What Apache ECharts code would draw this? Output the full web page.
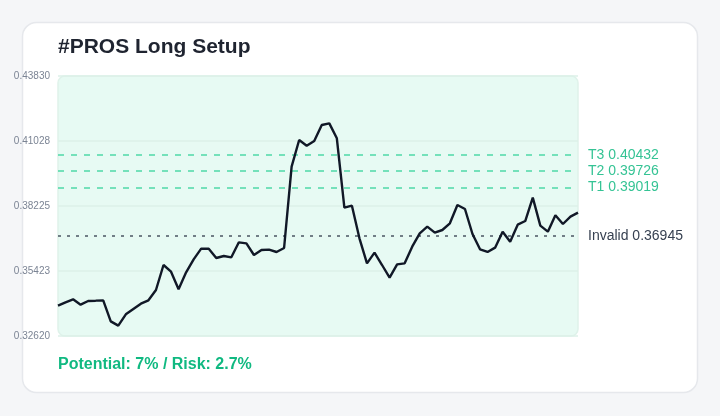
<!DOCTYPE html>
<html>
<head>
<meta charset="utf-8">
<script src="https://cdn.jsdelivr.net/npm/echarts@6/dist/echarts.min.js"></script>
<style>
html,body{margin:0;padding:0;background:#f5f6f8;}
#chart{width:720px;height:416px;}
</style>
</head>
<body>
<div id="chart"></div>
<script>
const titleText = '#PROS Long Setup';
const footerText = 'Potential: 7% / Risk: 2.7%';
const yTicks = [0.32620, 0.35423, 0.38225, 0.41028, 0.43830];
const prices = [
  0.33928, 0.34072, 0.34201, 0.33971, 0.34129, 0.34143, 0.34158, 0.33252, 0.33066, 0.33554,
  0.33784, 0.34014, 0.34158, 0.34603, 0.35681, 0.35394, 0.34632, 0.35365, 0.35926, 0.36385,
  0.36385, 0.35983, 0.36069, 0.36012, 0.36659, 0.36615, 0.36112, 0.36328, 0.36342, 0.36242,
  0.36414, 0.39921, 0.41071, 0.40826, 0.41028, 0.41717, 0.41789, 0.41143, 0.38153, 0.38239,
  0.36831, 0.35753, 0.36213, 0.35681, 0.35135, 0.35710, 0.35753, 0.36472, 0.37047, 0.37334,
  0.37075, 0.37190, 0.37478, 0.38268, 0.38096, 0.37018, 0.36357, 0.36242, 0.36429, 0.37118,
  0.36687, 0.37420, 0.37578, 0.38584, 0.37377, 0.37118, 0.37823, 0.37449, 0.37765, 0.37937
];
const categories = prices.map((_, i) => String(i + 1));
const targetNames = ['T3', 'T2', 'T1'];
const targetValues = [0.40432, 0.39726, 0.39019];
const invalidName = 'Invalid';
const invalidValue = 0.36945;

const chart = echarts.init(document.getElementById('chart'), null, {renderer: 'canvas'});
const font = "'Liberation Sans', Arial, sans-serif";

const markData = targetNames.map((n, i) => ({
  name: n, yAxis: targetValues[i],
  lineStyle: {color: '#34d399', type: [6, 7], width: 1.5, opacity: 0.85},
  label: {color: '#10b981'}
}));
markData.push({
  name: invalidName, yAxis: invalidValue,
  lineStyle: {color: '#4b5563', type: [3, 6], width: 1.5},
  label: {color: '#374151'}
});

chart.setOption({
  animation: false,
  backgroundColor: '#f5f6f8',
  graphic: [
    {type: 'rect', z: -10, shape: {x: 22.5, y: 22.5, width: 675, height: 370, r: 14},
     style: {fill: '#ffffff', stroke: '#e6e8ec', lineWidth: 1.5}},
    {type: 'rect', z: -9, shape: {x: 58, y: 76, width: 520, height: 260, r: 7},
     style: {fill: '#e7faf3', stroke: '#dff2ea', lineWidth: 1.5}},
    {type: 'text', left: 58, top: 37, style: {text: titleText, font: "bold 21px " + font, fill: '#1f2430'}},
    {type: 'text', left: 58, top: 357, style: {text: footerText, font: "bold 16px " + font, fill: '#10b981'}}
  ],
  grid: {left: 58, right: 142, top: 76, bottom: 80},
  xAxis: {
    type: 'category', data: categories, boundaryGap: false,
    axisLine: {show: false}, axisTick: {show: false}, axisLabel: {show: false}, splitLine: {show: false}
  },
  yAxis: {
    type: 'value', min: yTicks[0], max: yTicks[yTicks.length - 1],
    axisLine: {show: false},
    axisTick: {show: false, customValues: yTicks},
    axisLabel: {customValues: yTicks, color: '#7b8494', fontSize: 10, fontFamily: font, margin: 8,
      formatter: v => v.toFixed(5)},
    splitLine: {show: true, lineStyle: {color: '#dcf1e8', width: 1.5}}
  },
  series: [{
    type: 'line', data: prices, showSymbol: false, symbol: 'none',
    lineStyle: {color: '#111827', width: 2.4},
    z: 5,
    markLine: {
      silent: true, symbol: 'none', precision: 5,
      label: {position: 'end', distance: 10, fontSize: 14, fontFamily: font,
        formatter: p => p.name + ' ' + Number(p.value).toFixed(5)},
      data: markData
    }
  }]
});
</script>
</body>
</html>
